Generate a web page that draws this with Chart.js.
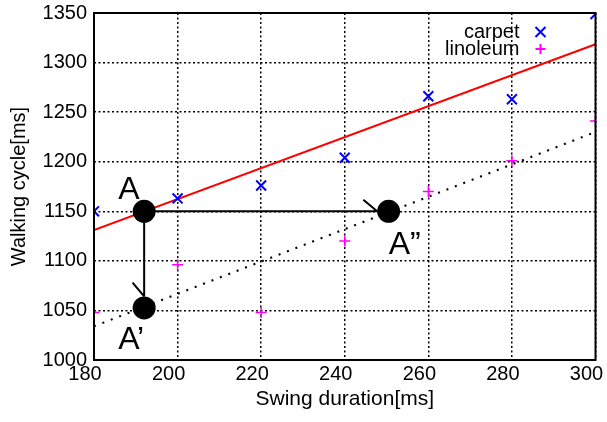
<!DOCTYPE html>
<html>
<head>
<meta charset="utf-8">
<script src="https://cdn.jsdelivr.net/npm/chart.js@4"></script>
<style>
  html, body { margin: 0; padding: 0; background: #fff; }
  #wrap { width: 607px; height: 422px; }
</style>
</head>
<body>
<div id="wrap"><canvas id="grafico" width="607" height="422"></canvas></div>
<script>
// datos
const swingX = [180, 200, 220, 240, 260, 280, 300];
const carpetY = [1150, 1163, 1176, 1204, 1266, 1263, 1349];
const linoleumY = [1048, 1096, 1048, 1120, 1170, 1201, 1241];

// rectas de ajuste (extremos en x = 180 y x = 300)
const fitX = [180, 300];
const fitCarpetY = [1131, 1318.5];
const fitLinoleumY = [1034, 1230];

// puntos marcados A, A', A''
const markX = [192, 192, 250.5];
const markY = [1150, 1052.5, 1150];
const markLabels = ['A', 'A\u2019', 'A\u201D'];

const xTicks = [180, 200, 220, 240, 260, 280, 300];
const yTicks = [1000, 1050, 1100, 1150, 1200, 1250, 1300, 1350];

const toPts = (xs, ys) => xs.map((x, i) => ({ x: x, y: ys[i] }));
const FONT = 'Liberation Sans, Arial, sans-serif';

// marco, flechas, etiquetas y leyenda
const extras = {
  id: 'extras',
  beforeDatasetsDraw(chart) {
    const ctx = chart.ctx;
    const sx = chart.scales.x, sy = chart.scales.y;
    const r = 11.5;
    const arrows = [[0, 2, 1], [0, 1, -1]];
    ctx.save();
    ctx.strokeStyle = '#000';
    ctx.lineWidth = 2;
    arrows.forEach(([a, b, side]) => {
      const x0 = sx.getPixelForValue(markX[a]), y0 = sy.getPixelForValue(markY[a]);
      const x1 = sx.getPixelForValue(markX[b]), y1 = sy.getPixelForValue(markY[b]);
      const len = Math.hypot(x1 - x0, y1 - y0);
      const dx = (x1 - x0) / len, dy = (y1 - y0) / len;
      const tx = x1 - dx * r, ty = y1 - dy * r;
      ctx.beginPath();
      ctx.moveTo(x0, y0);
      ctx.lineTo(tx, ty);
      const ang = side * 40 * Math.PI / 180;
      const bx = -dx, by = -dy;
      const rx = bx * Math.cos(ang) - by * Math.sin(ang);
      const ry = bx * Math.sin(ang) + by * Math.cos(ang);
      ctx.moveTo(tx, ty);
      ctx.lineTo(tx + rx * 18, ty + ry * 18);
      ctx.stroke();
    });
    ctx.restore();
  },
  afterDatasetsDraw(chart) {
    const ctx = chart.ctx;
    const a = chart.chartArea;
    const sx = chart.scales.x, sy = chart.scales.y;
    ctx.save();
    // marco
    ctx.strokeStyle = '#000';
    ctx.lineWidth = 2;
    ctx.strokeRect(a.left, a.top, a.right - a.left, a.bottom - a.top);

    // etiquetas A
    const offs = [[-26, -12], [-26, 41], [0, 43]];
    ctx.fillStyle = '#000';
    ctx.font = '32px ' + FONT;
    ctx.textAlign = 'left';
    ctx.textBaseline = 'alphabetic';
    markLabels.forEach((t, i) => {
      const px = sx.getPixelForValue(markX[i]), py = sy.getPixelForValue(markY[i]);
      ctx.fillText(t, px + offs[i][0], py + offs[i][1]);
    });

    // leyenda
    ctx.font = '20px ' + FONT;
    ctx.textAlign = 'right';
    ctx.textBaseline = 'middle';
    const lx = a.right - 76, mx = a.right - 55;
    const rows = [[chart.data.datasets[1], a.top + 19], [chart.data.datasets[2], a.top + 36]];
    rows.forEach(([ds, y]) => {
      ctx.fillStyle = '#000';
      ctx.fillText(ds.label, lx, y);
      ctx.strokeStyle = ds.borderColor;
      ctx.lineWidth = 2;
      ctx.beginPath();
      if (ds.pointStyle === 'crossRot') {
        ctx.moveTo(mx - 5, y - 5); ctx.lineTo(mx + 5, y + 5);
        ctx.moveTo(mx + 5, y - 5); ctx.lineTo(mx - 5, y + 5);
      } else {
        ctx.moveTo(mx - 5, y); ctx.lineTo(mx + 5, y);
        ctx.moveTo(mx, y - 5); ctx.lineTo(mx, y + 5);
      }
      ctx.stroke();
    });
    ctx.restore();
  }
};

new Chart(document.getElementById('grafico'), {
  type: 'scatter',
  data: {
    datasets: [
      {
        label: 'marks',
        data: toPts(markX, markY),
        pointStyle: 'circle',
        pointRadius: 11.5,
        backgroundColor: '#000',
        borderColor: '#000',
        borderWidth: 0
      },
      {
        label: 'carpet',
        data: toPts(swingX, carpetY),
        pointStyle: 'crossRot',
        pointRadius: 7,
        borderColor: '#0000ff',
        backgroundColor: '#0000ff',
        borderWidth: 2
      },
      {
        label: 'linoleum',
        data: toPts(swingX, linoleumY),
        pointStyle: 'cross',
        pointRadius: 5.5,
        borderColor: '#ff00ff',
        backgroundColor: '#ff00ff',
        borderWidth: 1.5
      },
      {
        label: 'fit carpet',
        data: toPts(fitX, fitCarpetY),
        showLine: true,
        pointRadius: 0,
        borderColor: '#ff0000',
        borderWidth: 2
      },
      {
        label: 'fit linoleum',
        data: toPts(fitX, fitLinoleumY),
        showLine: true,
        pointRadius: 0,
        borderColor: '#000',
        borderWidth: 2,
        borderDash: [2, 7]
      }
    ]
  },
  options: {
    responsive: false,
    animation: false,
    events: [],
    layout: { padding: { top: 13, right: 9, left: 0, bottom: 0 } },
    plugins: {
      legend: { display: false },
      tooltip: { enabled: false }
    },
    scales: {
      x: {
        type: 'linear',
        min: 180,
        max: 300,
        afterBuildTicks: s => { s.ticks = xTicks.map(v => ({ value: v })); },
        afterFit: s => { s.height = 62; s.paddingLeft = 0; s.paddingRight = 0; },
        border: { display: false, dash: [2, 2.5] },
        grid: { color: '#000', lineWidth: 1.5, drawTicks: false },
        ticks: { color: '#000', font: { family: FONT, size: 20 }, padding: 2, labelOffset: -9, maxRotation: 0, callback: v => String(v) },
        title: {
          display: true,
          text: 'Swing duration[ms]',
          color: '#000',
          font: { family: FONT, size: 21 },
          padding: { top: 0, bottom: 10 }
        }
      },
      y: {
        type: 'linear',
        min: 1000,
        max: 1350,
        afterBuildTicks: s => { s.ticks = yTicks.map(v => ({ value: v })); },
        afterFit: s => { s.width = 94; s.paddingTop = 0; s.paddingBottom = 0; },
        border: { display: false, dash: [2, 2.5] },
        grid: { color: '#000', lineWidth: 1.5, drawTicks: false },
        ticks: { color: '#000', font: { family: FONT, size: 20 }, padding: 7, callback: v => String(v) },
        title: {
          display: true,
          text: 'Walking cycle[ms]',
          color: '#000',
          font: { family: FONT, size: 20 },
          padding: { top: 7, bottom: 0 }
        }
      }
    }
  },
  plugins: [extras]
});
</script>
</body>
</html>
